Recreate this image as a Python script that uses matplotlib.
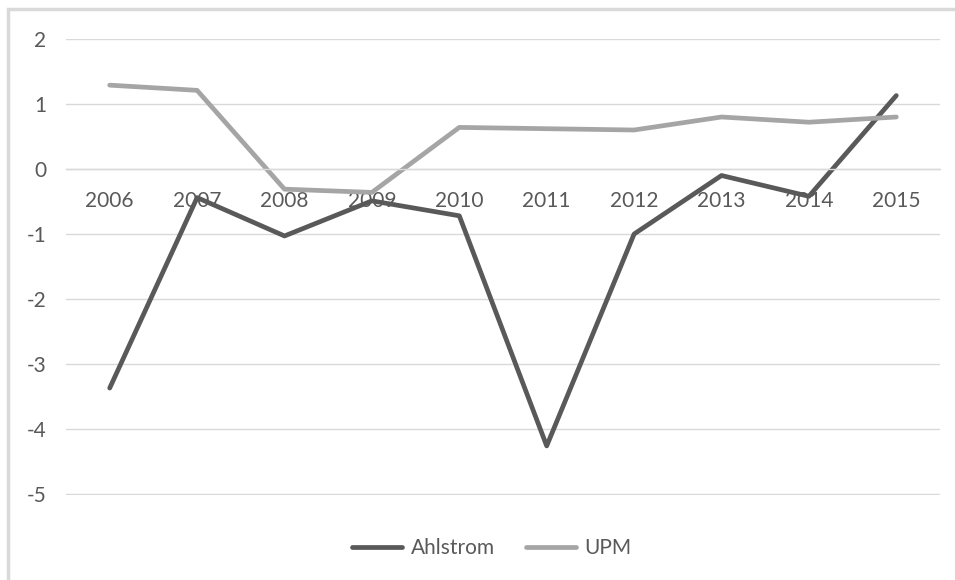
import matplotlib.pyplot as plt
from matplotlib.patches import Rectangle

years = ["2006", "2007", "2008", "2009", "2010", "2011", "2012", "2013", "2014", "2015"]
ahlstrom = [-3.37, -0.44, -1.03, -0.49, -0.72, -4.26, -1.00, -0.10, -0.42, 1.13]
upm = [1.29, 1.21, -0.31, -0.36, 0.64, 0.62, 0.60, 0.80, 0.72, 0.80]
y_ticks = [-5, -4, -3, -2, -1, 0, 1, 2]

text_color = "#595959"
grid_color = "#d9d9d9"

plt.rcParams["font.family"] = ["Lato", "DejaVu Sans"]

fig = plt.figure(figsize=(9.55, 5.8), dpi=100)
ax = fig.add_axes([66 / 955, 1 - 495 / 580, (940 - 66) / 955, (495 - 39) / 580])

# outer chart frame (only top and left visible in the reference)
fig.patches.append(Rectangle((8 / 955, -0.1), 1.2, 1 - 9 / 580 + 0.1,
                             transform=fig.transFigure, fill=False,
                             edgecolor=grid_color, linewidth=2.5))

x = list(range(len(years)))
ax.plot(x, ahlstrom, color="#595959", linewidth=3.4, label="Ahlstrom", solid_capstyle="round")
ax.plot(x, upm, color="#a5a5a5", linewidth=3.4, label="UPM", solid_capstyle="round")

ax.set_xlim(-0.5, len(years) - 0.5)
ax.set_ylim(-5.015, 2)
ax.set_yticks(y_ticks)
ax.set_yticklabels([str(v) for v in y_ticks])
ax.set_xticks(x)
ax.set_xticklabels(years)

ax.grid(axis="y", color=grid_color, linewidth=1)
ax.set_axisbelow(True)
for side in ["top", "right", "left"]:
    ax.spines[side].set_visible(False)
ax.spines["bottom"].set_position(("data", 0))
ax.spines["bottom"].set_color(grid_color)
ax.spines["bottom"].set_linewidth(1)

ax.tick_params(axis="both", length=0, labelsize=15, colors=text_color)
ax.tick_params(axis="x", pad=16)
ax.tick_params(axis="y", pad=14)

fig.legend(loc="center", bbox_to_anchor=(0.515, 1 - 548 / 580), ncol=2,
           frameon=False, fontsize=15, labelcolor=text_color,
           handlelength=2.4, handletextpad=0.4, columnspacing=1.5)

fig.savefig("out.png", dpi=100)
